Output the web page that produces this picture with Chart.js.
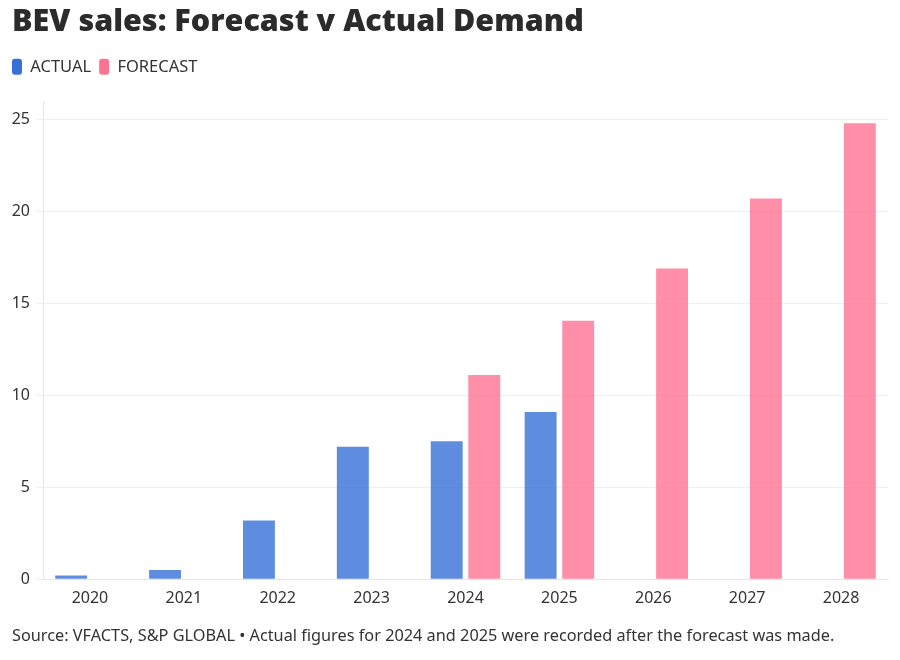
<!DOCTYPE html>
<html>
<head>
<meta charset="utf-8">
<script src="https://cdn.jsdelivr.net/npm/chart.js@4.4.0/dist/chart.umd.min.js"></script>
<style>
  html, body { margin: 0; padding: 0; background: #fff; }
  #wrap { width: 900px; height: 660px; }
</style>
</head>
<body>
<div id="wrap"><canvas id="grafico"></canvas></div>
<script>
const anos = ['2020', '2021', '2022', '2023', '2024', '2025', '2026', '2027', '2028'];
const actual = [0.2, 0.5, 3.2, 7.2, 7.5, 9.1, null, null, null];
const forecast = [null, null, null, null, 11.1, 14.05, 16.9, 20.7, 24.8];
const ticksY = [0, 5, 10, 15, 20, 25];

const corActual = '#3670d8';
const corForecast = '#ff7392';

// Ajusta a legenda: mais espaço embaixo e alinhada com o título.
const ajusteLegenda = {
    id: 'ajusteLegenda',
    beforeInit(chart) {
        const fitOriginal = chart.legend.fit;
        chart.legend.fit = function() {
            fitOriginal.bind(chart.legend)();
            this.height += 16;
        };
    },
    afterLayout(chart) {
        chart.legend.left -= 8;
    }
};

// Cria o gráfico de barras.
const ctx = document.getElementById('grafico').getContext('2d');
new Chart(ctx, {
    type: 'bar',
    data: {
        labels: anos,
        datasets: [
            { label: 'ACTUAL', data: actual, backgroundColor: 'rgba(54,112,216,0.8)', legendColor: corActual },
            { label: 'FORECAST', data: forecast, backgroundColor: 'rgba(255,115,146,0.8)', legendColor: corForecast }
        ]
    },
    plugins: [ajusteLegenda],
    options: {
        responsive: true,
        maintainAspectRatio: false,
        animation: false,
        categoryPercentage: 0.8,
        barPercentage: 0.85,
        layout: { padding: { left: 12, right: 12, top: 0, bottom: 8 } },
        plugins: {
            title: {
                display: true,
                text: 'BEV sales: Forecast v Actual Demand',
                align: 'start',
                color: '#2b2b2b',
                font: { family: 'Open Sans', size: 30.5, weight: 800 },
                padding: { top: 4, bottom: 10 }
            },
            subtitle: {
                display: true,
                position: 'bottom',
                text: 'Source: VFACTS, S&P GLOBAL \u2022 Actual figures for 2024 and 2025 were recorded after the forecast was made.',
                align: 'start',
                color: '#333',
                font: { family: 'Noto Sans', size: 16.3 },
                padding: { top: 16, bottom: 6 }
            },
            legend: {
                position: 'top',
                align: 'start',
                labels: {
                    boxWidth: 10,
                    boxHeight: 16,
                    useBorderRadius: true,
                    borderRadius: 3,
                    color: '#333',
                    font: { family: 'Noto Sans', size: 16.5 },
                    padding: 8,
                    generateLabels: function(chart) {
                        return chart.data.datasets.map((ds, i) => ({
                            text: ds.label,
                            fillStyle: ds.legendColor,
                            strokeStyle: ds.legendColor,
                            lineWidth: 0,
                            borderRadius: 3,
                            datasetIndex: i,
                            fontColor: '#333'
                        }));
                    }
                }
            },
            tooltip: { enabled: false }
        },
        scales: {
            x: {
                grid: { display: false },
                border: { color: '#e6e6e6' },
                ticks: { color: '#333', font: { family: 'Noto Sans', size: 16 }, padding: 2 }
            },
            y: {
                min: 0,
                max: 26,
                afterBuildTicks: function(axis) {
                    axis.ticks = ticksY.map(v => ({ value: v }));
                },
                afterFit: function(axis) {
                    axis.width = 31;
                },
                grid: { color: '#efefef', tickLength: 7 },
                border: { color: '#e6e6e6' },
                ticks: { color: '#333', font: { family: 'Noto Sans', size: 16 }, padding: 6 }
            }
        }
    }
});
</script>
</body>
</html>
